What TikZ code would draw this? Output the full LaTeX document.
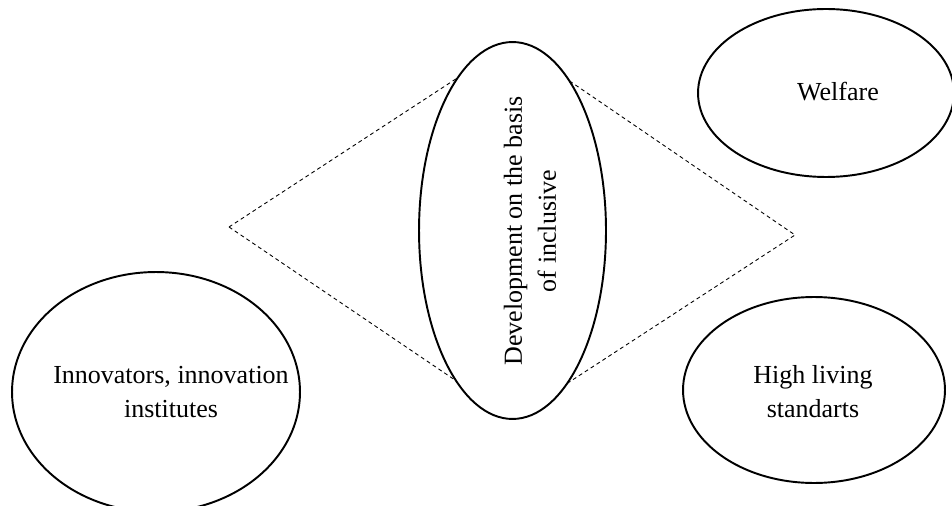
\documentclass[tikz,border=0pt]{standalone}
\usepackage{fontspec}
\setmainfont{Liberation Serif}
\usepackage{tikz}
\usetikzlibrary{shapes, positioning, calc}

\tikzset{
  bubble/.style={ellipse, draw, line width=1.1pt, fill=white, inner sep=0pt},
  txt/.style={align=center, font=\fontsize{14.8}{19.3}\selectfont},
  rim/.style={dashed, line width=0.5pt, dash pattern=on 2.2pt off 1.8pt}
}

\begin{document}
\begin{tikzpicture}[x=0.02cm, y=-0.02cm]
  % Frame of the picture
  \useasboundingbox (0,0) rectangle (952,506);
  \clip (0,0) rectangle (952,506);

  % Corner points of the dashed rhombus
  \coordinate (L) at (229,227);
  \coordinate (T) at (512.5,42);
  \coordinate (R) at (795,235);
  \coordinate (B) at (512.5,419);

  % Dashed rhombus, hidden behind the central ellipse
  \draw[rim] (L) -- (T) -- (R) -- (B) -- cycle;

  % Draw ellipses
  \node[bubble, minimum width=3.74cm, minimum height=7.54cm] (dev) at (512.5,230.5) {};
  \node[bubble, minimum width=5.76cm, minimum height=4.8cm] (innov) at (156,392) {};
  \node[bubble, minimum width=5.12cm, minimum height=3.36cm] (welf) at (826,93) {};
  \node[bubble, minimum width=5.24cm, minimum height=3.72cm] (high) at (814,390) {};

  % Labels
  \node[txt, rotate=90] (devtxt) at ($(dev)+(17.5,0.5)$) {Development on the basis\\of inclusive};
  \node[txt] (innovtxt) at ($(innov)+(15,0)$) {Innovators, innovation\\institutes};
  \node[txt] (welftxt) at ($(welf)+(12,-1)$) {Welfare};
  \node[txt] (hightxt) at ($(high)+(-1,2)$) {High living\\standarts};
\end{tikzpicture}
\end{document}
